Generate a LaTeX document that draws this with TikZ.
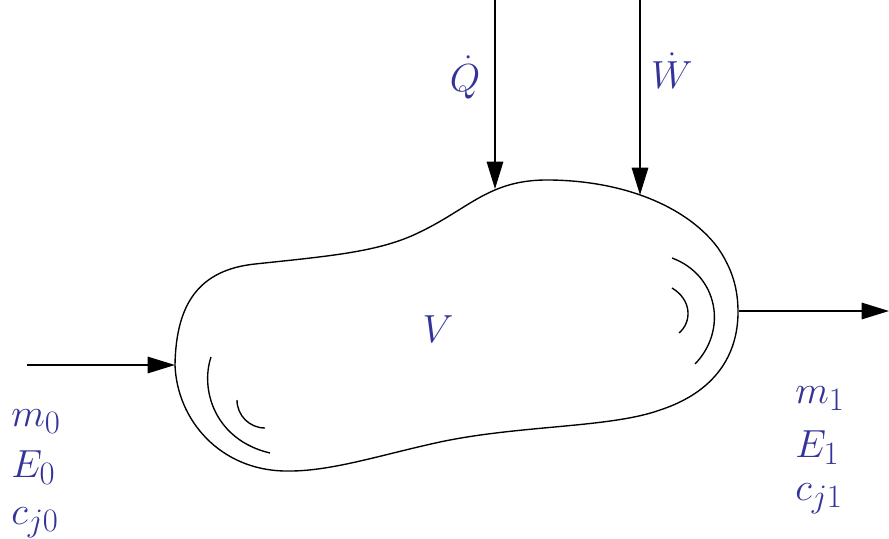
\documentclass[tikz,border=0pt]{standalone}
\usetikzlibrary{arrows.meta}
\definecolor{lblue}{RGB}{51,51,153}
\tikzset{
  outline/.style={line width=1.0pt, line join=round},
  flow/.style={line width=1.3pt, -{Triangle[length=20pt,width=12pt]}},
  lbl/.style={text=lblue, inner sep=0pt, font=\Huge, transform shape, scale=1.15},
}
\begin{document}
\begin{tikzpicture}[x=0.73pt,y=-0.73pt]
\useasboundingbox (0,0) rectangle (889,538);
% control volume outline
\draw[outline] (175,365)
  .. controls (176,305) and (198,270) .. (255,264)
  .. controls (330,256) and (380,252) .. (420,232)
  .. controls (470,208) and (490,179) .. (550,180)
  .. controls (630,181) and (690,210) .. (718,248)
  .. controls (733,270) and (738,290) .. (738,312)
  .. controls (738,355) and (715,392) .. (660,410)
  .. controls (610,428) and (520,425) .. (440,442)
  .. controls (380,455) and (330,472) .. (285,471)
  .. controls (220,470) and (177,420) .. cycle;
% inner swirl lines
\draw[outline] (211,357) .. controls (200,390) and (215,440) .. (270,453);
\draw[outline] (237,400) arc[start angle=180,end angle=90,radius=28];
\draw[outline] (672,258) .. controls (718,275) and (728,330) .. (695,364);
\draw[outline] (672,288) .. controls (692,300) and (692,322) .. (679,333);
% connector end points
\coordinate (qtop) at (495,0);
\coordinate (qtip) at (495,189);
\coordinate (wtop) at (640,0);
\coordinate (wtip) at (640,195);
\coordinate (inl) at (27,365);
\coordinate (intip) at (175,365);
\coordinate (outl) at (739,311);
\coordinate (outtip) at (889,311);
\draw[flow] (qtop) -- (qtip);
\draw[flow] (wtop) -- (wtip);
\draw[flow] (inl) -- (intip);
\draw[flow] (outl) -- (outtip);
% labels
\node[lbl, anchor=base] (Q) at (465,91) {$\dot{Q}$};
\node[lbl, anchor=base] (W) at (672,88) {$\dot{W}$};
\node[lbl, anchor=base] (V) at (438,342) {$V$};
\node[lbl, anchor=base west] (m0) at (11,426) {$m_0$};
\node[lbl, anchor=base west] (E0) at (11,477) {$E_0$};
\node[lbl, anchor=base west] (c0) at (11,524) {$c_{j0}$};
\node[lbl, anchor=base west] (m1) at (795,403) {$m_1$};
\node[lbl, anchor=base west] (E1) at (795,457) {$E_1$};
\node[lbl, anchor=base west] (c1) at (795,500) {$c_{j1}$};
\end{tikzpicture}
\end{document}
